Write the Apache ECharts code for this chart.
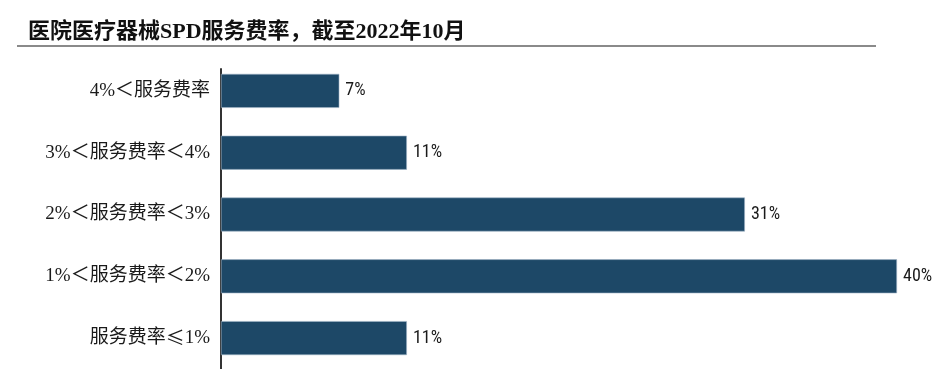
<!DOCTYPE html>
<html>
<head>
<meta charset="utf-8">
<script src="https://cdn.jsdelivr.net/npm/echarts@6/dist/echarts.min.js"></script>
<style>html,body{margin:0;padding:0;background:#fff;}#chart{width:947px;height:369px;}</style>
</head>
<body>
<div id="chart"></div>
<script>
var titleText = '医院医疗器械SPD服务费率，截至2022年10月';
var categories = ['服务费率≤1%', '1%＜服务费率＜2%', '2%＜服务费率＜3%', '3%＜服务费率＜4%', '4%＜服务费率'];
var values = [11, 40, 31, 11, 7];

var chart = echarts.init(document.getElementById('chart'), null, {renderer: 'canvas'});
var serif = '"Liberation Serif", "Noto Sans CJK SC", serif';
var cjk = '"Noto Sans CJK SC", sans-serif';
chart.setOption({
  animation: false,
  backgroundColor: '#ffffff',
  title: {
    text: titleText,
    left: 23, top: 16,
    textStyle: {fontFamily: serif, fontWeight: 'bold', fontSize: 22, color: '#111'}
  },
  graphic: [{
    type: 'line',
    shape: {x1: 17, y1: 46, x2: 876, y2: 46},
    style: {stroke: '#8a8a8a', lineWidth: 2}
  }],
  grid: [
    {left: 221, right: 50, top: 60, height: 311, containLabel: false},
    {left: 221, right: 50, top: 69, bottom: 0, containLabel: false}
  ],
  xAxis: [
    {type: 'value', gridIndex: 0, min: 0, max: 40, show: false},
    {type: 'value', gridIndex: 1, min: 0, max: 1, show: false}
  ],
  yAxis: [
    {
      type: 'category', gridIndex: 0, data: categories,
      axisLine: {show: false}, axisTick: {show: false},
      axisLabel: {
        fontFamily: serif, fontSize: 19, color: '#1a1a1a', margin: 11,
        formatter: function (v) { return v.replace('≤', '{c|≤}'); },
        rich: {c: {fontFamily: cjk, fontSize: 19, color: '#1a1a1a'}}
      }
    },
    {
      type: 'value', gridIndex: 1, min: 0, max: 1,
      axisLine: {show: true, lineStyle: {color: '#333', width: 2}},
      axisTick: {show: false}, axisLabel: {show: false}, splitLine: {show: false}
    }
  ],
  series: [{
    type: 'bar',
    xAxisIndex: 0, yAxisIndex: 0,
    data: values,
    barWidth: 34,
    itemStyle: {color: '#1d4867', borderColor: '#9fb3c6', borderWidth: 0.6},
    label: {
      show: true, position: 'right', distance: 6,
      formatter: function (p) { return p.value + '%'; },
      fontFamily: '"Liberation Sans Narrow", "Roboto Condensed", "Liberation Sans", sans-serif',
      fontSize: 18, color: '#1a1a1a'
    }
  }]
});
</script>
</body>
</html>
